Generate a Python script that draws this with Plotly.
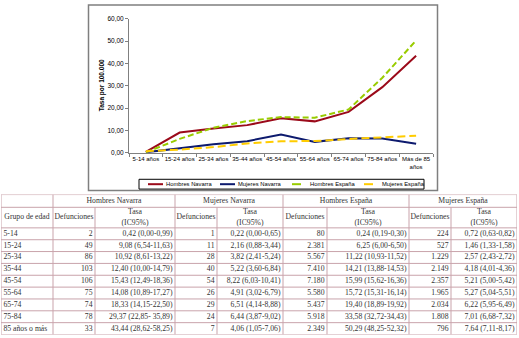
import plotly.graph_objects as go

# ---------------- data ----------------
grupos = ["5-14 años", "15-24 años", "25-34 años", "35-44 años", "45-54 años",
          "55-64 años", "65-74 años", "75-84 años", "Más de 85<br>años"]
hombres_navarra = [0.42, 9.08, 10.92, 12.40, 15.43, 14.08, 18.33, 29.37, 43.44]
mujeres_navarra = [0.22, 2.16, 3.82, 5.22, 8.22, 4.91, 6.51, 6.44, 4.06]
hombres_espana = [0.24, 6.25, 11.22, 14.21, 15.99, 15.72, 19.40, 33.58, 50.29]
mujeres_espana = [0.72, 1.46, 2.57, 4.18, 5.21, 5.27, 6.22, 7.01, 7.64]

series_names = ["Hombres Navarra", "Mujeres Navarra", "Hombres España", "Mujeres España"]

tabla_grupos = ["5-14", "15-24", "25-34", "35-44", "45-54", "55-64", "65-74", "75-84", "85 años o más"]
def_hn = ["2", "49", "86", "103", "106", "75", "74", "78", "33"]
tasa_hn = ["0,42 (0,00-0,99)", "9,08 (6,54-11,63)", "10,92 (8,61-13,22)", "12,40 (10,00-14,79)",
           "15,43 (12,49-18,36)", "14,08 (10,89-17,27)", "18,33 (14,15-22,50)",
           "29,37 (22,85- 35,89)", "43,44 (28,62-58,25)"]
def_mn = ["1", "11", "28", "40", "54", "26", "29", "24", "7"]
tasa_mn = ["0,22 (0,00-0,65)", "2,16 (0,88-3,44)", "3,82 (2,41-5,24)", "5,22 (3,60-6,84)",
           "8,22 (6,03-10,41)", "4,91 (3,02-6,79)", "6,51 (4,14-8,88)", "6,44 (3,87-9,02)",
           "4,06 (1,05-7,06)"]
def_he = ["80", "2.381", "5.567", "7.410", "7.180", "5.580", "5.437", "5.918", "2.349"]
tasa_he = ["0,24 (0,19-0,30)", "6,25 (6,00-6,50)", "11,22 (10,93-11,52)", "14,21 (13,88-14,53)",
           "15,99 (15,62-16,36)", "15,72 (15,31-16,14)", "19,40 (18,89-19,92)",
           "33,58 (32,72-34,43)", "50,29 (48,25-52,32)"]
def_me = ["224", "527", "1.229", "2.149", "2.357", "1.965", "2.034", "1.808", "796"]
tasa_me = ["0,72 (0,63-0,82)", "1,46 (1,33-1,58)", "2,57 (2,43-2,72)", "4,18 (4,01-4,36)",
           "5,21 (5,00-5,42)", "5,27 (5,04-5,51)", "6,22 (5,95-6,49)", "7,01 (6,68-7,32)",
           "7,64 (7,11-8,17)"]

header_top = ["", "Hombres Navarra", "Mujeres Navarra", "Hombres España", "Mujeres España"]
header_sub = ["Grupo de edad", "Defunciones", "Tasa<br>(IC95%)", "Defunciones", "Tasa<br>(IC95%)",
              "Defunciones", "Tasa<br>(IC95%)", "Defunciones", "Tasa<br>(IC95%)"]

# ---------------- layout helpers ----------------
W, H = 519, 338
def fx(px):
    return px / W
def fy(py):
    return 1 - py / H

colors = ["#9B0A1A", "#0D1A6E", "#99CC00", "#FFCC00"]
dashes = ["solid", "solid", "6px,3px", "8px,4px"]
sans = "Liberation Sans"
serif = "Liberation Serif"
line_col = "#C9A3AB"
txt_col = "#333333"

fig = go.Figure()

# ---------------- line chart ----------------
for name, vals, c, d in zip(series_names,
                            [hombres_navarra, mujeres_navarra, hombres_espana, mujeres_espana],
                            colors, dashes):
    fig.add_trace(go.Scatter(x=grupos, y=vals, mode="lines", name=name,
                             line=dict(color=c, width=2, dash=d), hoverinfo="skip",
                             showlegend=False, xaxis="x", yaxis="y"))

# ---------------- table (drawn on its own pixel-scaled axes) ----------------
col_w = [52, 42, 80, 42, 66, 44, 82, 42, 66]
h1, h2, rowh = 13, 21, 12.1
n_rows = len(tabla_grupos)
tab_h = h1 + h2 + n_rows * rowh
tab_w = sum(col_w)
tab_left = 1
tab_top = H - 0.5 - tab_h

edges = [0]
for w in col_w:
    edges.append(edges[-1] + w)
group_edges = [edges[0], edges[1], edges[3], edges[5], edges[7], edges[9]]
inner_edges = [edges[2], edges[4], edges[6], edges[8]]

# grid lines
gx, gy = [], []
for yv in [0, h1, h1 + h2] + [h1 + h2 + (k + 1) * rowh for k in range(n_rows)]:
    gx += [0, tab_w, None]
    gy += [yv, yv, None]
for xv in group_edges:
    gx += [xv, xv, None]
    gy += [0, tab_h, None]
for xv in inner_edges:
    gx += [xv, xv, None]
    gy += [h1, tab_h, None]
fig.add_trace(go.Scatter(x=gx, y=gy, mode="lines", line=dict(color=line_col, width=1),
                         hoverinfo="skip", showlegend=False, cliponaxis=False,
                         xaxis="x2", yaxis="y2"))

# header texts
tx, ty, tt, tp = [], [], [], []
for i, label in enumerate(header_top):
    if label:
        tx.append((group_edges[i] + group_edges[i + 1]) / 2)
        ty.append(h1 / 2)
        tt.append(label)
        tp.append("middle center")
for i, label in enumerate(header_sub):
    tx.append((edges[i] + edges[i + 1]) / 2)
    ty.append(h1 + h2 / 2)
    tt.append(label)
    tp.append("middle center")

columns = [tabla_grupos, def_hn, tasa_hn, def_mn, tasa_mn, def_he, tasa_he, def_me, tasa_me]
for ci, col in enumerate(columns):
    for ri, val in enumerate(col):
        ty.append(h1 + h2 + (ri + 0.5) * rowh)
        tt.append(val)
        if ci == 0:
            tx.append(edges[0] + 2.5)
            tp.append("middle right")
        else:
            tx.append(edges[ci + 1] - 2.5)
            tp.append("middle left")

fig.add_trace(go.Scatter(x=tx, y=ty, text=tt, mode="text", textposition=tp,
                         textfont=dict(family=serif, size=7.7, color=txt_col),
                         hoverinfo="skip", showlegend=False, cliponaxis=False,
                         xaxis="x2", yaxis="y2"))

# ---------------- custom legend (inside chart frame) ----------------
leg_x0, leg_x1, leg_y0, leg_y1 = 139, 424, 179, 189
leg_items_x = [148, 220, 292, 364]
leg_dash = ["solid", "solid", "dash", "dash"]
shapes = [
    dict(type="rect", xref="paper", yref="paper",
         x0=fx(88.5), x1=fx(437.5), y0=fy(190.5), y1=fy(1),
         line=dict(color="#7f7f7f", width=1.5)),
    dict(type="rect", xref="paper", yref="paper",
         x0=fx(leg_x0), x1=fx(leg_x1), y0=fy(leg_y1), y1=fy(leg_y0),
         line=dict(color="#000000", width=1), fillcolor="white"),
]
annotations = [dict(text="<b>Tasa por 100.000</b>", xref="paper", yref="paper",
                    x=fx(102), y=fy(83), xanchor="center", yanchor="middle",
                    textangle=-90, showarrow=False,
                    font=dict(family=sans, size=6.5, color="#000"))]
legy = (leg_y0 + leg_y1) / 2
for lx, name, c, d in zip(leg_items_x, series_names, colors, leg_dash):
    shapes.append(dict(type="line", xref="paper", yref="paper",
                       x0=fx(lx), x1=fx(lx + 15), y0=fy(legy), y1=fy(legy),
                       line=dict(color=c, width=2, dash=d)))
    annotations.append(dict(text=name, xref="paper", yref="paper",
                            x=fx(lx + 16), y=fy(legy), xanchor="left", yanchor="middle",
                            showarrow=False, font=dict(family=sans, size=5.8, color="#000")))

fig.update_layout(
    width=W, height=H,
    margin=dict(l=0, r=0, t=0, b=0),
    paper_bgcolor="white", plot_bgcolor="rgba(0,0,0,0)",
    separators=",.",
    showlegend=False,
    xaxis=dict(domain=[fx(129), fx(433)], range=[-0.5, 8.5], anchor="y",
               showline=True, linecolor="#808080", linewidth=1, tickangle=0,
               ticks="outside", ticklen=3, tickcolor="#808080", tickson="boundaries",
               showgrid=False, zeroline=False,
               tickfont=dict(family=sans, size=6, color="#000")),
    yaxis=dict(domain=[fy(152), fy(15)], range=[0, 60], dtick=10, tickformat=".2f",
               anchor="x",
               showline=True, linecolor="#808080", linewidth=1,
               ticks="outside", ticklen=3, tickcolor="#808080",
               showgrid=False, zeroline=False,
               tickfont=dict(family=sans, size=6.5, color="#000")),
    xaxis2=dict(domain=[fx(tab_left), fx(tab_left + tab_w)], range=[0, tab_w], anchor="y2",
                visible=False, fixedrange=True),
    yaxis2=dict(domain=[fy(tab_top + tab_h), fy(tab_top)], range=[tab_h, 0], anchor="x2",
                visible=False, fixedrange=True),
    shapes=shapes,
    annotations=annotations,
)

fig.write_html("out.html", post_script="document.body.style.margin='0';",
               config={"displayModeBar": False})
